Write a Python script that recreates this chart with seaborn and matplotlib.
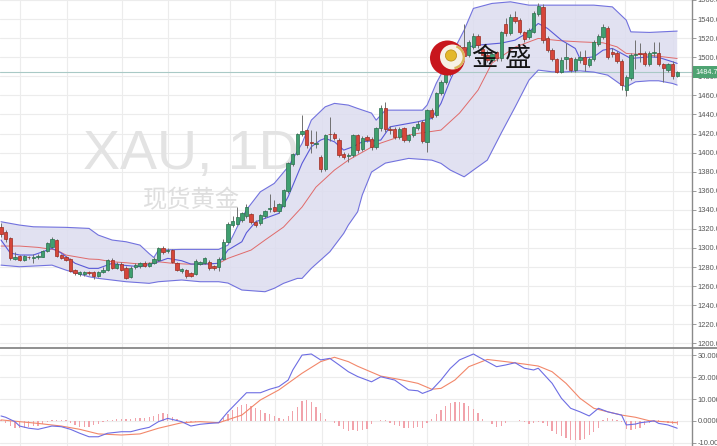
import numpy as np
import pandas as pd
import matplotlib
matplotlib.use("Agg")
import matplotlib.pyplot as plt
import seaborn as sns
from matplotlib.patches import Circle, Wedge, Rectangle
from matplotlib.lines import Line2D

# ---- daily XAU candles ----
opens = [1322, 1316.7, 1310, 1288, 1292, 1287, 1291, 1289, 1290, 1291,
         1297, 1301, 1308, 1292.5, 1291, 1288, 1277, 1273, 1273, 1275,
         1275, 1271, 1275, 1277, 1287, 1279, 1283, 1279.5, 1270, 1280,
         1281, 1284, 1281, 1284, 1287, 1299.9, 1297, 1297.8, 1284.5, 1276,
         1277, 1274, 1273, 1283, 1284, 1285.5, 1281, 1280.3, 1288, 1306,
         1324.3, 1325, 1329, 1333, 1336, 1327, 1325.8, 1333, 1341, 1342.6,
         1339, 1344, 1360, 1388, 1399, 1419.4, 1423.6, 1411, 1409, 1395.6,
         1382.4, 1420, 1420, 1413, 1399, 1396, 1397, 1418, 1404, 1416,
         1414, 1405.5, 1425.4, 1446.3, 1424.5, 1425, 1416, 1425.4, 1413, 1418,
         1425.4, 1432, 1411.3, 1444.5, 1439, 1462, 1474, 1483, 1507, 1500,
         1511, 1502, 1511, 1522, 1509, 1502, 1497, 1505, 1498.7, 1535,
         1525.6, 1541.7, 1539, 1526.6, 1521, 1526.6, 1545, 1553, 1519.7, 1508,
         1497.7, 1484.7, 1498, 1498.7, 1486.5, 1497, 1500.5, 1491.7, 1497.7, 1513.6,
         1520.7, 1530.5, 1505.4, 1504.6, 1496, 1465.5, 1477.8, 1502, 1504, 1504.6,
         1492.8, 1504, 1504.6, 1492.8, 1486.5, 1492.8, 1480.2]
highs = [1326, 1319, 1311, 1296, 1293, 1293, 1292, 1294, 1294, 1298,
         1306, 1311, 1309, 1294, 1292, 1289, 1278, 1276, 1276, 1276,
         1276, 1276, 1280, 1288, 1289, 1285, 1285, 1281, 1281, 1284,
         1285, 1286, 1285, 1290, 1301, 1302, 1300, 1299, 1285, 1279,
         1278, 1275, 1288, 1286, 1290, 1287, 1282, 1290, 1309, 1327,
         1334, 1343, 1338, 1346, 1337, 1329, 1336, 1340, 1357, 1350,
         1347, 1362, 1390, 1400, 1421, 1439, 1425, 1424, 1423, 1397,
         1420, 1437.5, 1422, 1415, 1401, 1400, 1420, 1420, 1417, 1418,
         1416, 1427, 1450, 1453, 1428, 1427, 1427, 1427, 1420, 1428,
         1433, 1434, 1446, 1447, 1464, 1476, 1485, 1502, 1510, 1513,
         1535, 1518, 1525, 1524, 1511, 1508, 1507, 1507, 1528, 1541,
         1545, 1548, 1541, 1528, 1531, 1548, 1557, 1556, 1522, 1510,
         1499, 1500, 1514.5, 1500, 1500, 1506, 1508, 1500, 1518, 1524,
         1535, 1533, 1510, 1506, 1498, 1481, 1504, 1518, 1514.5, 1506,
         1506, 1516, 1516, 1494, 1494, 1496, 1486]
lows = [1312, 1306, 1287, 1287, 1286, 1286, 1288, 1284, 1288, 1290,
        1296, 1300, 1290, 1288, 1286, 1275, 1272, 1271, 1271, 1272,
        1267, 1270, 1274, 1276, 1278, 1278, 1276, 1267, 1269, 1278,
        1279, 1280, 1280, 1283, 1286, 1294, 1295, 1284, 1276, 1274,
        1268, 1270, 1272, 1282, 1283, 1277, 1277, 1276, 1287, 1305,
        1322, 1324, 1327, 1331, 1325, 1322, 1324, 1331, 1338, 1338,
        1337, 1343, 1358, 1386, 1397, 1417, 1405, 1400, 1405, 1380,
        1381, 1412, 1413, 1395, 1393, 1390, 1395, 1400, 1402, 1411,
        1403, 1404, 1423, 1422, 1420, 1414, 1414, 1411, 1411, 1416,
        1424, 1410, 1400.8, 1435, 1437, 1460, 1472, 1480, 1494, 1498,
        1498, 1500, 1509, 1510, 1492, 1495, 1495, 1496, 1496, 1522,
        1523, 1536, 1524, 1516, 1519, 1525, 1543, 1515, 1505, 1496,
        1483, 1483, 1488, 1485, 1485, 1494, 1486, 1490, 1496, 1512,
        1519, 1498, 1500, 1494, 1465.5, 1459, 1476, 1488, 1495, 1491,
        1491, 1500.4, 1491, 1474, 1485, 1477, 1479]
closes = [1315, 1309, 1289, 1291, 1287, 1292, 1290, 1290, 1292, 1297,
          1305, 1309, 1291.5, 1289, 1287, 1276, 1274, 1275, 1275, 1274,
          1271, 1275, 1277, 1287, 1279, 1283, 1277, 1269, 1279, 1282,
          1284, 1281, 1284, 1288, 1299.5, 1295.7, 1298, 1285.5, 1277, 1277.5,
          1270.5, 1271, 1286.6, 1285, 1289, 1278.6, 1279, 1288.7, 1306, 1325.5,
          1328.5, 1332, 1336.5, 1342.6, 1327.5, 1324.5, 1334.5, 1339, 1342, 1339,
          1346, 1360.7, 1388.7, 1399, 1420, 1423, 1408, 1410, 1410, 1382.4,
          1418.3, 1419, 1415, 1397, 1395.6, 1397, 1418, 1402.6, 1415, 1413,
          1405.5, 1425.4, 1446.3, 1424.3, 1424, 1416.6, 1425, 1413, 1418, 1426.4,
          1430, 1412.4, 1444.5, 1437.5, 1462, 1474, 1483, 1499, 1495, 1511,
          1501, 1516, 1522, 1512.6, 1502, 1497, 1503, 1499, 1526.6, 1525.6,
          1541.7, 1538, 1526.6, 1518.7, 1529, 1546.6, 1553.5, 1518, 1507.4, 1497.7,
          1484.7, 1497, 1500, 1486.5, 1497.7, 1500.5, 1492.8, 1497.7, 1516, 1522,
          1531.2, 1500.4, 1503, 1496, 1470.8, 1478.8, 1502.2, 1503, 1503, 1492.8,
          1504.6, 1505, 1492.8, 1488.3, 1492.8, 1480, 1484.7]

# ---- Bollinger bands and moving average (vertices by candle index) ----
upper_idx = [0, 4, 7, 14, 19, 21, 24, 27, 30, 32, 33, 34, 39, 43, 47, 49, 50, 51, 53, 56,
             59, 62, 65, 67, 70, 72, 75, 77, 80, 81, 83, 91, 92, 94, 97, 100, 102, 106, 110, 114,
             119, 128, 132, 135, 136, 140, 146]
upper_val = [1327.5, 1324, 1322.2, 1321.6, 1320.5, 1313.5, 1308.3, 1306.5, 1303, 1294,
             1290, 1297.8, 1298.5, 1298.5, 1298.5, 1303, 1312, 1322, 1340, 1358.9,
             1367.7, 1385.1, 1409.6, 1434, 1448, 1451.6, 1449.8, 1446.3, 1441.4, 1434,
             1444.5, 1444.5, 1449.8, 1472.9, 1500.1, 1528.4, 1551.2, 1556.4, 1558.1, 1554.6,
             1554.6, 1554.6, 1552.8, 1538.9, 1526.6, 1526, 1527.4]
lower_idx = [0, 4, 11, 14, 19, 21, 27, 32, 34, 39, 43, 47, 49, 52, 57, 59, 61, 64, 65, 67,
             69, 71, 74, 75, 77, 78, 80, 83, 88, 93, 95, 97, 100, 102, 105, 108, 111, 114, 116, 119,
             122, 125, 128, 131, 134, 135, 137, 140, 142, 145, 146]
lower_val = [1282, 1280.3, 1282, 1276.8, 1269.8, 1268.1, 1264.6, 1262.9, 1264.6, 1266.4,
             1264.6, 1264.6, 1263.2, 1255.9, 1254.1, 1257.7, 1262.9, 1268.1, 1268.1, 1278.6,
             1287.3, 1296, 1315.3, 1324, 1337.9, 1355.5, 1379.6, 1389, 1393.9, 1392.1,
             1388.7, 1381.7, 1374.6, 1381.7, 1392.1, 1420.4, 1447.7, 1476, 1486.5, 1484.7,
             1484.7, 1485.7, 1484.4, 1481.2, 1470.8, 1469, 1474.2, 1475.3, 1475.3, 1472.5, 1470.8]
mid_idx = [0, 4, 8, 12, 14, 19, 21, 24, 27, 30, 33, 34, 37, 40, 44, 47, 49, 54, 57, 61,
           65, 68, 72, 75, 80, 82, 86, 90, 95, 99, 103, 106, 111, 115, 116, 121, 125, 130, 133, 135,
           140, 144, 146]
mid_val = [1302, 1302, 1300.6, 1297.8, 1292.6, 1288.4, 1288, 1285.5, 1284.5, 1283.1,
           1284.5, 1285.5, 1283.9, 1283.1, 1283.1, 1283.9, 1289.1, 1297.8, 1308.3, 1321.9,
           1342.9, 1363.8, 1381.7, 1392.1, 1405.8, 1410, 1416.6, 1420.1, 1423.6, 1441.4,
           1465.5, 1493.8, 1510.6, 1517.9, 1519.7, 1517.2, 1516.1, 1515.1, 1510.9, 1504,
           1502.2, 1499.8, 1498.7]
ma_idx = [0, 2, 4, 7, 9, 11, 13, 16, 19, 21, 24, 26, 30, 33, 36, 39, 41, 44, 47, 49,
          52, 53, 55, 60, 62, 65, 67, 69, 70, 72, 74, 76, 78, 82, 84, 86, 90, 93, 95, 97,
          99, 101, 103, 108, 111, 114, 116, 118, 121, 124, 125, 128, 130, 132, 134, 136, 140, 142, 145, 146]
ma_val = [1308.3, 1294.7, 1292.6, 1292.6, 1296, 1299.6, 1294.7, 1283.9, 1278.6, 1278.6,
          1283.9, 1282.1, 1280.3, 1283.9, 1289.1, 1286.6, 1283.1, 1283.1, 1283.9, 1297.8,
          1306.5, 1316, 1327.5, 1336.3, 1353.7, 1388.7, 1406.1, 1413.1, 1414.9, 1411.3,
          1402.6, 1406.1, 1411.3, 1413.1, 1427, 1428.8, 1432.3, 1435.8, 1451.6, 1476,
          1497, 1510.9, 1512.7, 1514.8, 1517.9, 1526.6, 1535.4, 1530.2, 1517.9, 1509.2,
          1498.7, 1500.4, 1507.4, 1509.2, 1504, 1498.7, 1500.4, 1499.8, 1495.2, 1493.5]

# ---- MACD panel ----
macd_idx = [0, 1, 3, 4, 6, 8, 11, 13, 15, 17, 19, 21, 23, 26, 28, 30, 32, 34, 36, 39,
            41, 43, 45, 47, 49, 53, 56, 58, 60, 62, 63, 65, 67, 69, 71, 73, 75, 77, 80, 82,
            85, 88, 90, 91, 93, 95, 97, 99, 102, 103, 105, 107, 109, 111, 113, 115, 116, 119, 121, 123,
            125, 127, 129, 131, 134, 135, 137, 138, 140, 141, 142, 144, 146]
macd_val = [2.3, 1.7, -0.3, -2.3, -3.3, -3.8, -2.3, -2.6, -3.8, -5.6,
            -7.2, -7.2, -5.6, -4.9, -4.9, -3.8, -2.9, -0.3, 1.2, -0.3,
            -2.3, -1.5, -1.1, -0.8, 4.2, 12.9, 12.9, 14.5, 15.7, 18.7,
            23.3, 30.1, 30.6, 27.9, 28.6, 25.6, 22.5, 20.3, 17.9, 20.2,
            18.7, 14.2, 13.8, 12.6, 14.2, 18.7, 24, 27.9, 30.6, 29.4,
            27.1, 24.8, 25.6, 26.6, 24.1, 23.3, 24.1, 17.2, 10.4, 5.8,
            4.2, 2.3, 5.8, 4.2, 2.7, -1.8, -1.4, -0.8, -0.3, 0.1,
            -1.1, -1.8, -3.3]
signal_idx = [0, 4, 8, 13, 17, 21, 26, 30, 34, 39, 43, 47, 52, 56, 60, 65, 69, 72, 75, 77,
              82, 86, 90, 93, 95, 98, 101, 105, 109, 113, 116, 119, 122, 125, 128, 131, 134, 137, 140, 143, 146]
signal_val = [0.5, -0.3, -1.1, -2.3, -3.8, -5.9, -6.4, -5.9, -3.3, -0.8,
              -0.3, -0.8, 2.7, 9.6, 14.2, 21.8, 27.1, 29.1, 27.1, 25.0,
              20.5, 19, 17.2, 14.5, 14.9, 18.7, 24.8, 28.1, 27.1, 26,
              25.1, 22.5, 17.2, 10.4, 5.8, 4.2, 2.7, 1.7, 0.1, -0.3, -0.8]
hist_val = [0.5, -1.0, -2.5, -3.0, -3.2, -3.0, -2.8, -2.5, -2.2, -1.5,
            -0.5, 0.3, 0.6, 0.5, 0.3, -1.0, -2.0, -2.6, -2.9, -2.6,
            -2.0, -1.2, -0.5, 0.5, 0.6, 0.8, 0.9, 0.7, 1.0, 1.2,
            1.3, 1.5, 1.6, 2.2, 3.4, 3.6, 3.0, 1.8, 0.8, 0.2,
            -0.3, -0.5, -0.3, 0.0, 0.2, 0.0, -0.2, 0.2, 1.5, 3.0,
            5.0, 6.5, 7.5, 7.8, 7.0, 5.8, 4.8, 3.8, 3.2, 2.2,
            1.5, 1.0, 2.5, 4.5, 6.5, 9.0, 9.8, 8.5, 6.5, 3.5,
            1.0, 0.0, -1.0, -2.5, -3.8, -4.5, -4.2, -4.6, -4.0, -3.5,
            -1.5, 0.0, 0.5, 0.3, -1.0, -1.8, -2.4, -3.0, -3.4, -3.2,
            -2.8, -3.0, -1.0, 1.0, 3.0, 5.0, 7.0, 8.0, 8.6, 8.8,
            8.2, 7.0, 5.5, 3.5, 1.0, 0.0, -1.5, -2.8, -2.5, -1.0,
            0.0, 0.0, 0.5, -0.5, -1.5, -1.0, -0.5, -0.8, -2.5, -4.5,
            -6.0, -7.0, -7.8, -8.5, -8.7, -8.5, -8.0, -6.5, -5.0, -3.0,
            0.5, 1.2, 0.8, 0.3, -0.5, -3.5, -4.2, -3.8, -3.0, -2.0,
            -1.0, -0.5, 0.3, -0.5, -1.0, -1.5, -1.8]

last_price = 1484.7
price_ticks = list(range(1200, 1561, 20))
macd_ticks = [-10, 0, 10, 20, 30]
macd_tick_labels = ["-10.000", "0.0000", "10.000", "20.000", "30.000"]
vgrid = [4.1, 14.25, 26.1, 36.05, 49.4, 59.2, 69.3, 79.0, 92, 101.9, 113.8, 123.9, 134.7, 145.1]

# ---- styling ----
sns.set_theme(style="white")
plt.rcParams["font.family"] = ["Liberation Sans", "DejaVu Sans"]
CJK = ["Noto Sans CJK SC", "DejaVu Sans"]

GREEN, GREEN_EDGE = "#3f9f70", "#2a6e4c"
RED, RED_EDGE = "#d6463a", "#9a2c22"
WICK = "#707070"
BAND_LINE = "#7272de"
BAND_FILL = "#dcdcef"
MID_LINE = "#e06a6a"
GRID = "#ececec"
TXT = "#555555"

W, H = 717, 446
fig = plt.figure(figsize=(W / 100, H / 100), dpi=100)
fig.patch.set_facecolor("white")
ax = fig.add_axes([0, 98 / H, 692 / W, 348 / H])
axm = fig.add_axes([0, 0, 692 / W, 97 / H])

XLIM = (-0.22, 149.2)
for a in (ax, axm):
    a.set_xlim(*XLIM)
    a.set_facecolor("white")
    for s in ("top", "left", "bottom"):
        a.spines[s].set_visible(False)
    a.spines["right"].set_color("#8a8a8a")
    a.spines["right"].set_linewidth(1.0)
    a.yaxis.tick_right()
    a.tick_params(axis="y", direction="out", length=3, width=0.6, color="#8a8a8a",
                  labelsize=5.4, labelcolor=TXT, pad=1)
    a.tick_params(axis="x", length=0, labelbottom=False)
    a.set_xticks([])
    for gx in vgrid:
        a.axvline(gx, color=GRID, lw=0.8, zorder=0)

ax.set_ylim(1195.1, 1559.9)
ax.set_yticks(price_ticks)
ax.set_yticklabels([f"{v:.1f}" for v in price_ticks])
for v in price_ticks:
    ax.axhline(v, color=GRID, lw=0.8, zorder=0)

# watermark
ax.text(83 / W, 1 - 169 / H, "XAU, 1D", transform=fig.transFigure, fontsize=40,
        color="#e3e3e3", ha="left", va="baseline", zorder=0.5)
ax.text(143 / W, 1 - 200 / H, "现货黄金", transform=fig.transFigure, fontsize=17.5,
        color="#dedede", ha="left", va="center", family=CJK, zorder=0.5)

# Bollinger band
poly_x = list(upper_idx) + list(lower_idx[::-1])
poly_y = list(upper_val) + list(lower_val[::-1])
ax.fill(poly_x, poly_y, color=BAND_FILL, alpha=0.85, lw=0, zorder=1)
sns.lineplot(x=upper_idx, y=upper_val, ax=ax, color=BAND_LINE, lw=0.8, sort=False, zorder=2)
sns.lineplot(x=lower_idx, y=lower_val, ax=ax, color=BAND_LINE, lw=0.8, sort=False, zorder=2)
sns.lineplot(x=mid_idx, y=mid_val, ax=ax, color=MID_LINE, lw=0.7, sort=False, zorder=2)
sns.lineplot(x=ma_idx, y=ma_val, ax=ax, color="#5a5ad8", lw=0.8, sort=False, zorder=2)

# last price line
ax.axhline(last_price, color="#a9c9c6", lw=0.8, zorder=1.5)

# candles
df = pd.DataFrame({"o": opens, "h": highs, "l": lows, "c": closes})
df["i"] = np.arange(len(df))
rising = df["c"] >= df["o"]
body_lo = np.minimum(df["o"], df["c"])
body_h = np.maximum((df["c"] - df["o"]).abs(), 0.9)
ax.vlines(df["i"], df["l"], df["h"], color=WICK, lw=0.7, zorder=3)
ax.bar(df["i"], body_h, bottom=body_lo, width=0.72,
       color=np.where(rising, GREEN, RED), edgecolor=np.where(rising, GREEN_EDGE, RED_EDGE),
       linewidth=0.5, zorder=4)

# MACD panel
axm.set_ylim(-11.42, 32.88)
axm.set_yticks(macd_ticks)
axm.set_yticklabels(macd_tick_labels)
for v in macd_ticks:
    axm.axhline(v, color=GRID, lw=0.8, zorder=0)
axm.bar(np.arange(len(hist_val)), hist_val, width=0.28, color="#f1a2aa", lw=0, zorder=2)
sns.lineplot(x=signal_idx, y=signal_val, ax=axm, color="#f2876a", lw=0.8, sort=False, zorder=3)
sns.lineplot(x=macd_idx, y=macd_val, ax=axm, color="#6d6de3", lw=0.8, sort=False, zorder=3)

# overlay in pixel space: panel separator, price tag, logo
ov = fig.add_axes([0, 0, 1, 1], zorder=10)
ov.set_xlim(0, W)
ov.set_ylim(H, 0)
ov.axis("off")
ov.patch.set_alpha(0)
ov.add_line(Line2D([0, W], [348.3, 348.3], color="#7d7d7d", lw=1.2))
ov.add_patch(Rectangle((693, 66), 26, 12, facecolor="#4fa372", edgecolor="none"))
ov.text(695, 72.3, f"{last_price:.1f}", fontsize=5.2, color="white", ha="left", va="center")

# logo: red crescent with golden ball
ov.add_patch(Circle((447.5, 58), 17.5, facecolor="#c8161d", edgecolor="none"))
ov.add_patch(Circle((452.5, 57), 12.5, facecolor="#f7f1e6", edgecolor="none"))
ov.add_patch(Wedge((452.5, 57), 12.5, -70, 80, width=2.4, facecolor="#d9b45a", edgecolor="none"))
ov.add_patch(Circle((451, 55.5), 5.6, facecolor="#e4b82a", edgecolor="#b98a10", lw=0.5))
ov.text(484, 58.5, "金", fontsize=19, color="#151515", ha="center", va="center", family=CJK)
ov.text(518, 58.5, "盛", fontsize=19, color="#151515", ha="center", va="center", family=CJK)

fig.savefig("out.png", dpi=100)
